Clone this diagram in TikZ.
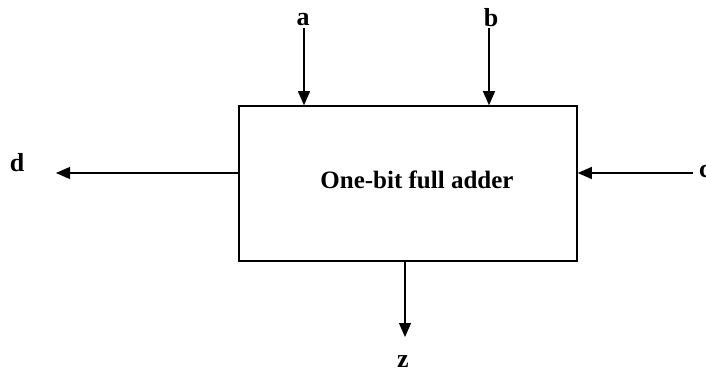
\documentclass[tikz,border=0pt]{standalone}
\usepackage{fontspec}
\setmainfont{Liberation Serif}
\usetikzlibrary{arrows.meta}
\begin{document}
\begin{tikzpicture}[x=1pt,y=-1pt,
  boxstyle/.style={draw, line width=1.6pt, rectangle, minimum width=338pt, minimum height=155pt, inner sep=0pt},
  lab/.style={font=\fontsize{26}{30}\selectfont\bfseries, inner sep=0pt, anchor=base},
  arr/.style={line width=1.2pt, -{Triangle[length=14pt,width=12pt]}}]
\useasboundingbox (0,0) rectangle (706,371);
\node[boxstyle] (adder) at (408,183.5) {};
\node[font=\fontsize{25}{29}\selectfont\bfseries, inner sep=0pt, anchor=base] (txt) at (417,189) {One-bit full adder};
\node[lab] (la) at (303,26) {a};
\node[lab] (lb) at (491,27) {b};
\node[lab] (ld) at (17,172) {d};
\node[lab, anchor=base west] (lc) at (699,178) {c};
\node[lab] (lz) at (403,367) {z};
\coordinate (a1) at (304,28);
\coordinate (b1) at (489,28);
\coordinate (c1) at (693,173);
\coordinate (d1) at (56,173);
\coordinate (z1) at (405,337);
\draw[arr] (a1) -- (a1 |- adder.north);
\draw[arr] (b1) -- (b1 |- adder.north);
\draw[arr] (c1) -- (c1 -| adder.east);
\draw[arr] (d1 -| adder.west) -- (d1);
\draw[arr] (z1 |- adder.south) -- (z1);
\end{tikzpicture}
\end{document}
